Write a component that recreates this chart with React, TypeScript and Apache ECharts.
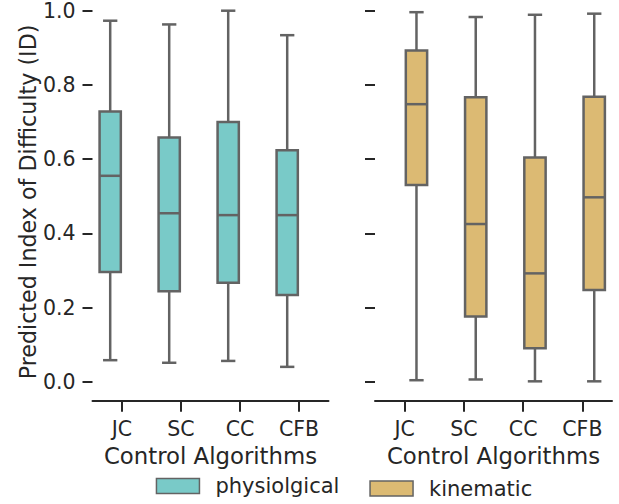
import { useEffect, useRef } from "react";
import * as echarts from "echarts";

const categories = ["JC", "SC", "CC", "CFB"];
const yTicks = [0, 0.2, 0.4, 0.6, 0.8, 1.0];
const seriesNames = ["physiolgical", "kinematic"];
// each row: [min, q1, median, q3, max]
const physiological = [
  [0.058, 0.296, 0.555, 0.728, 0.973],
  [0.051, 0.244, 0.454, 0.658, 0.963],
  [0.056, 0.267, 0.449, 0.7, 1.0],
  [0.04, 0.234, 0.449, 0.624, 0.934],
];
const kinematic = [
  [0.004, 0.53, 0.748, 0.893, 0.996],
  [0.006, 0.176, 0.425, 0.767, 0.983],
  [0.001, 0.09, 0.292, 0.604, 0.989],
  [0.001, 0.247, 0.497, 0.768, 0.992],
];

const TEAL = "#79CAC8";
const TAN = "#DCBA73";
const LINE = "#636363";
const TEXT = "#262626";
const FONT = "DejaVu Sans";

function makeRender(side: number, fill: string) {
  return (params: any, api: any) => {
    const idx = api.value(0);
    const vmin = api.value(1);
    const q1 = api.value(2);
    const med = api.value(3);
    const q3 = api.value(4);
    const vmax = api.value(5);
    const band = api.size([1, 0])[0];
    const cx = api.coord([idx, 0])[0] + side * 0.2 * band;
    const w = 0.36 * band;
    const cap = 0.2 * band;
    const y = (v: number) => api.coord([idx, v])[1];
    const lw = 2.5;
    const st = { stroke: LINE, lineWidth: lw, lineCap: "butt" };
    const capSt = { stroke: LINE, lineWidth: lw, lineCap: "square" };
    return {
      type: "group",
      children: [
        { type: "line", shape: { x1: cx, y1: y(q3), x2: cx, y2: y(vmax) }, style: st },
        { type: "line", shape: { x1: cx, y1: y(q1), x2: cx, y2: y(vmin) }, style: st },
        { type: "line", shape: { x1: cx - cap / 2, y1: y(vmax), x2: cx + cap / 2, y2: y(vmax) }, style: capSt },
        { type: "line", shape: { x1: cx - cap / 2, y1: y(vmin), x2: cx + cap / 2, y2: y(vmin) }, style: capSt },
        {
          type: "rect",
          shape: { x: cx - w / 2, y: y(q3), width: w, height: y(q1) - y(q3) },
          style: { fill, stroke: LINE, lineWidth: lw },
        },
        { type: "line", shape: { x1: cx - w / 2, y1: y(med), x2: cx + w / 2, y2: y(med) }, style: st },
      ],
    };
  };
}

export default function App() {
  const ref = useRef<HTMLDivElement>(null);
  useEffect(() => {
    if (!ref.current) return;
    const chart = echarts.init(ref.current, undefined, { renderer: "svg" });
    const xAxisBase = (gridIndex: number) => ({
      type: "category",
      gridIndex,
      data: categories,
      offset: 19,
      boundaryGap: true,
      axisLine: { show: true, onZero: false, lineStyle: { color: TEXT, width: 2 } },
      axisTick: { show: true, alignWithLabel: true, length: 11, lineStyle: { color: TEXT, width: 2 } },
      axisLabel: { color: TEXT, fontSize: 20.5, fontFamily: FONT, margin: 18 },
      name: "Control Algorithms",
      nameLocation: "middle",
      nameGap: 41,
      nameTextStyle: { color: TEXT, fontSize: 22.8, fontFamily: FONT },
      splitLine: { show: false },
    });
    const yAxisBase = (gridIndex: number, showLabel: boolean) => ({
      type: "value",
      gridIndex,
      min: yTicks[0],
      max: yTicks[yTicks.length - 1],
      interval: 0.2,
      axisLine: { show: false },
      axisTick: { show: true, length: 10, lineStyle: { color: TEXT, width: 2 } },
      axisLabel: {
        show: showLabel,
        color: TEXT,
        fontSize: 20.5,
        fontFamily: FONT,
        margin: 17,
        formatter: (v: number) => v.toFixed(1),
      },
      splitLine: { show: false },
    });
    const toData = (arr: number[][]) => arr.map((r, i) => [i, ...r]);
    chart.setOption({
      animation: false,
      textStyle: { fontFamily: FONT },
      grid: [
        { left: 92.5, width: 236, top: 10.7, height: 371 },
        { left: 375, width: 237, top: 10.7, height: 371 },
      ],
      xAxis: [xAxisBase(0), xAxisBase(1)],
      yAxis: [yAxisBase(0, true), yAxisBase(1, false)],
      legend: [
        {
          data: [{ name: seriesNames[0], itemStyle: { color: TEAL, borderColor: LINE, borderWidth: 1.5 } }],
          left: 155.7,
          top: 475.5,
          padding: 0,
          icon: "rect",
          itemWidth: 43,
          itemHeight: 15,
          selectedMode: false,
          textStyle: { color: TEXT, fontSize: 21, fontFamily: FONT, padding: [0, 0, 0, 11] },
        },
        {
          data: [{ name: seriesNames[1], itemStyle: { color: TAN, borderColor: LINE, borderWidth: 1.5 } }],
          left: 369.3,
          top: 478,
          padding: 0,
          icon: "rect",
          itemWidth: 43,
          itemHeight: 15,
          selectedMode: false,
          textStyle: { color: TEXT, fontSize: 21, fontFamily: FONT, padding: [0, 0, 0, 11] },
        },
      ],
      graphic: [
        {
          type: "text",
          x: 27.5,
          y: 202,
          rotation: Math.PI / 2,
          style: {
            text: "Predicted Index of Difficulty (ID)",
            fill: TEXT,
            font: `22.2px '${FONT}'`,
            align: "center",
            verticalAlign: "middle",
          },
        },
      ],
      series: [
        {
          type: "custom",
          name: seriesNames[0],
          xAxisIndex: 0,
          yAxisIndex: 0,
          itemStyle: { color: TEAL },
          renderItem: makeRender(-1, TEAL),
          encode: { x: 0, y: [1, 2, 3, 4, 5] },
          data: toData(physiological),
        },
        {
          type: "custom",
          name: seriesNames[1],
          xAxisIndex: 1,
          yAxisIndex: 1,
          itemStyle: { color: TAN },
          renderItem: makeRender(1, TAN),
          encode: { x: 0, y: [1, 2, 3, 4, 5] },
          data: toData(kinematic),
        },
      ],
    });
    return () => chart.dispose();
  }, []);
  return <div ref={ref} style={{ width: 619, height: 504, position: "absolute", left: 0, top: 0 }} />;
}
